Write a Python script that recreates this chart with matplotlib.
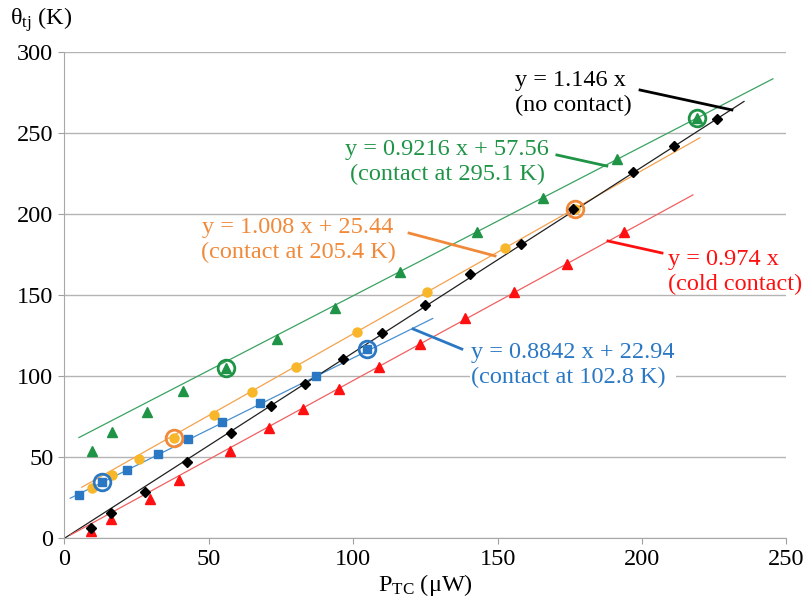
import numpy as np
import matplotlib.pyplot as plt

plt.rcParams['font.family'] = ['Liberation Serif', 'DejaVu Serif']
plt.rcParams['mathtext.fontset'] = 'custom'
plt.rcParams['mathtext.rm'] = 'Liberation Serif'
plt.rcParams['mathtext.it'] = 'Liberation Serif:italic'

# measured points: thermocouple power (uW) vs junction temperature (K)
x_none = [9.2, 16.1, 27.9, 42.4, 57.6, 71.5, 83.3, 96.4, 109.9, 124.8, 140.4, 158.1, 176.1, 196.8, 211.0, 225.9]
y_none = [6.4, 15.6, 28.6, 47.1, 65.0, 81.7, 95.3, 110.7, 126.7, 144.0, 163.1, 181.7, 203.3, 226.1, 242.2, 258.8]

x_cold = [9.2, 16.1, 29.6, 39.6, 57.3, 70.8, 82.6, 95.0, 108.9, 123.1, 138.7, 155.6, 174.0, 193.7]
y_cold = [4.5, 11.9, 24.3, 36.0, 54.0, 68.1, 79.8, 92.2, 105.7, 120.0, 136.0, 152.1, 169.3, 189.0]

x_295 = [9.5, 16.4, 28.5, 40.9, 55.9, 73.5, 93.7, 116.2, 142.8, 165.7, 191.3, 218.9]
y_295 = [53.9, 65.6, 77.8, 90.9, 105.2, 123.0, 142.1, 164.4, 189.1, 210.2, 234.1, 259.5]

x_205 = [9.5, 16.4, 25.8, 37.9, 51.8, 64.9, 80.2, 101.3, 125.5, 152.5, 176.7]
y_205 = [31.0, 39.1, 48.9, 61.9, 76.1, 90.4, 105.8, 127.4, 151.9, 179.2, 203.3]

x_103 = [5.0, 13.0, 21.6, 32.4, 42.8, 54.5, 67.7, 87.1, 104.7]
y_103 = [26.7, 34.8, 42.2, 52.0, 61.3, 71.8, 83.5, 100.2, 116.8]

# points marked with a ring (contact on / off)
ring_295 = [4, 11]
ring_205 = [3, 10]
ring_103 = [1, 8]

# linear fits: slope, intercept, x range
fit_none = (1.146, 0.0, 0.0, 235.3)
fit_cold = (0.974, 0.0, 2.0, 217.6)
fit_295 = (0.9216, 57.56, 5.0, 245.3)
fit_205 = (1.008, 25.44, 6.0, 220.0)
fit_103 = (0.8842, 22.94, 2.0, 127.5)

c_black = '#000000'
c_red = '#ff1010'
c_green = '#1f9446'
c_orange = '#f08a3a'
c_gold = '#f8b62a'
c_blue = '#2a78c4'

fig = plt.figure(figsize=(8.04, 6.05), dpi=100)
ax = fig.add_axes([0.0802, 0.1103, 0.898, 0.8033])


def fit_line(fit, color):
    a, b, x0, x1 = fit
    xs = np.array([x0, x1])
    ax.plot(xs, a * xs + b, color=color, lw=0.9, zorder=2)


fit_line(fit_295, '#3aa262')
fit_line(fit_205, '#f4a24e')
fit_line(fit_103, '#4a90d0')
fit_line(fit_none, '#202020')
fit_line(fit_cold, '#f06060')

ax.plot(x_295, y_295, ls='none', marker='^', ms=7, color=c_green, zorder=3)
ax.plot(x_205, y_205, ls='none', marker='o', ms=6.5, color=c_gold, zorder=3)
ax.plot(x_103, y_103, ls='none', marker='s', ms=5.5, color=c_blue, zorder=3)
ax.plot(x_none, y_none, ls='none', marker='D', ms=5, color=c_black, zorder=4)
ax.plot(x_cold, y_cold, ls='none', marker='^', ms=7, color=c_red, zorder=3)

for idx, xs, ys, col in [(ring_295, x_295, y_295, c_green),
                         (ring_205, x_205, y_205, c_orange),
                         (ring_103, x_103, y_103, c_blue)]:
    ax.plot([xs[i] for i in idx], [ys[i] for i in idx], ls='none', marker='o',
            ms=12, mfc='none', mec=col, mew=2, zorder=5)

ax.set_xlim(0, 250)
ax.set_ylim(0, 300)
ax.set_xticks(np.arange(0, 251, 50))
ax.set_yticks(np.arange(0, 301, 50))
ax.tick_params(labelsize=17.5, length=4, color='#a0a0a0', pad=4)
ax.grid(axis='y', color='#b4b4b4', lw=1)
ax.set_axisbelow(True)
for s in ['top', 'right']:
    ax.spines[s].set_visible(False)
for s in ['left', 'bottom']:
    ax.spines[s].set_color('#a8a8a8')

ax.set_xlabel(r'P$_{\mathrm{TC}}$ (μW)', fontsize=17.5, labelpad=1)
fig.text(0.012, 0.968, r'θ$_{\mathrm{tj}}$ (K)', fontsize=17.5, va='center', ha='left')

# equation labels with leader lines
fs = 17.5
ls = 1.22
ax.text(156.0, 275.0, 'y = 1.146 x\n(no contact)', color=c_black, fontsize=fs,
        ha='left', va='center', linespacing=ls)
ax.plot([199.3, 231.1], [276.7, 264.4], color=c_black, lw=2, zorder=6)

ax.text(132.5, 232.3, 'y = 0.9216 x + 57.56\n(contact at 295.1 K)', color=c_green,
        fontsize=fs, ha='center', va='center', linespacing=ls)
ax.plot([170.5, 187.8], [236.6, 229.8], color=c_green, lw=2, zorder=6)

ax.text(80.9, 184.2, 'y = 1.008 x + 25.44\n(contact at 205.4 K)', color=c_orange,
        fontsize=fs, ha='center', va='center', linespacing=ls)
ax.plot([119.3, 149.1], [188.4, 174.3], color=c_orange, lw=2, zorder=6)

ax.text(208.9, 164.5, 'y = 0.974 x\n(cold contact)', color=c_red, fontsize=fs,
        ha='left', va='center', linespacing=ls)
ax.plot([188.2, 206.9], [183.5, 176.1], color=c_red, lw=2, zorder=6)

ax.text(140.8, 107.0, 'y = 0.8842 x + 22.94\n(contact at 102.8 K)', color=c_blue,
        fontsize=fs, ha='left', va='center', linespacing=ls,
        bbox=dict(facecolor='white', edgecolor='none', pad=1))
ax.plot([120.7, 137.6], [129.2, 116.8], color=c_blue, lw=2, zorder=6)

fig.savefig('out.png', dpi=100)
